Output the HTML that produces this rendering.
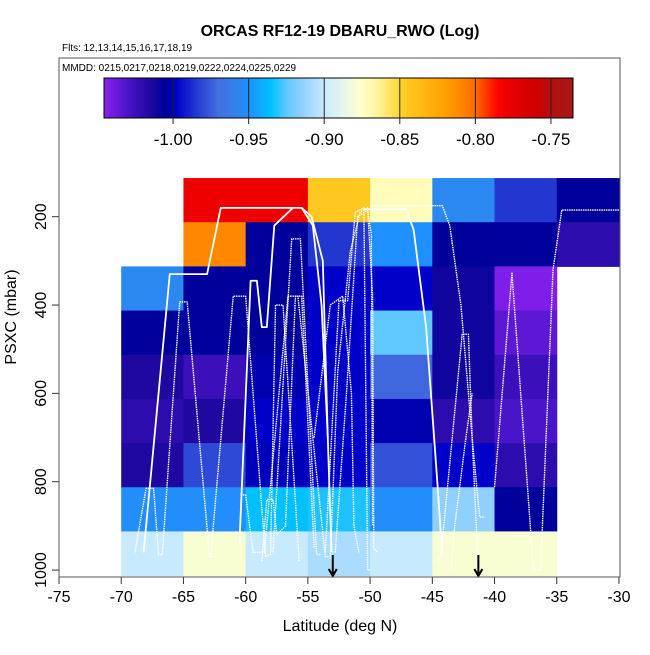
<!DOCTYPE html>
<html><head><meta charset="utf-8"><style>
body{margin:0;background:#fff;}
svg text{font-family:"Liberation Sans",sans-serif;}
</style></head><body>
<svg id="chart" width="650" height="650" xmlns="http://www.w3.org/2000/svg">
<rect width="650" height="650" fill="#fff"/>
<text x="340" y="36" text-anchor="middle" font-size="16" font-weight="bold">ORCAS RF12-19 DBARU_RWO (Log)</text>
<text x="62" y="51" font-size="10">Flts: 12,13,14,15,16,17,18,19</text>
<g id="cells"></g>
<g id="tracks"></g>
<g id="cbar"></g>
<g id="axes"></g>
<rect x="59" y="58" width="561" height="519" fill="none" stroke="#555" stroke-width="1"/>
<text x="62" y="71" font-size="10">MMDD: 0215,0217,0218,0219,0222,0224,0225,0229</text>
<text x="340" y="631" text-anchor="middle" font-size="16">Latitude (deg N)</text>
<text transform="translate(16,317) rotate(-90)" text-anchor="middle" font-size="16">PSXC (mbar)</text>
</svg>
<script>
const NS="http://www.w3.org/2000/svg";
const colEdges=[-70,-65,-60,-55,-50,-45,-40,-35,-30];
const rowEdges=[112.5,212.5,312.5,412.5,512.5,612.5,712.5,812.5,912.5,1012.5];
const cellValues=[
[null,-0.78,-0.78,-0.845,-0.872,-0.955,-0.985,-1.005],
[null,-0.81,-1.005,-0.985,-0.95,-1.005,-1.005,-1.02],
[-0.955,-1.005,-1.005,-0.998,-0.998,-1.01,-1.043,null],
[-1.005,-1.005,-1.005,-0.998,-0.925,-1.01,-1.035,null],
[-1.015,-1.025,-1.002,-0.998,-0.972,-1.01,-1.025,null],
[-1.02,-1.015,-0.998,-0.998,-1.002,-1.02,-1.03,null],
[-1.015,-0.98,-1.0,-0.998,-0.978,-0.998,-1.02,null],
[-0.952,-0.952,-0.935,-0.932,-0.952,-0.915,-1.005,null],
[-0.9,-0.878,-0.9,-0.908,-0.9,-0.878,-0.878,null]];
const xTicks=[-75,-70,-65,-60,-55,-50,-45,-40,-35,-30];
const yTicks=[200,400,600,800,1000];
const cbTicks=[-1.00,-0.95,-0.90,-0.85,-0.80,-0.75];
const cbTickLabels=["-1.00","-0.95","-0.90","-0.85","-0.80","-0.75"];
const arrowLats=[-53,-41.3];
const tracks=[
{d:0,pts:[[-68.2,960],[-66.1,330],[-63.1,330],[-62,180],[-55.5,180],[-54.6,220],[-53.9,400],[-53.4,700],[-53.1,960]]},
{d:1,pts:[[-68.9,960],[-68,815],[-67.4,815],[-67,965],[-66.7,965],[-65.3,393],[-64.7,393],[-62.9,970],[-62.6,970]]},
{d:1,pts:[[-62.8,965],[-61,380],[-60,380],[-58.4,970],[-58,965],[-57.6,400],[-57,400],[-55.7,980]]},
{d:0,pts:[[-60.5,940],[-59.6,345],[-59.1,345],[-58.7,450],[-58.3,450],[-57.7,220],[-56.2,180]]},
{d:1,pts:[[-57.8,960],[-56.3,250],[-55.6,250],[-54.3,965],[-54,965]]},
{d:1,pts:[[-60.4,830],[-60,830],[-59.4,960],[-58.5,960],[-56.6,380],[-55.8,380],[-53.6,970],[-53.3,970]]},
{d:1,pts:[[-58.7,980],[-58.3,840],[-57.8,840],[-57.5,920],[-56.8,900],[-56,380],[-55.5,380],[-54.5,950]]},
{d:1,pts:[[-53.2,975],[-52.6,550],[-51.6,280],[-50.8,190],[-50.2,180],[-49.8,380],[-49.7,950],[-49.4,960]]},
{d:1,pts:[[-53.6,960],[-52.5,390],[-51.8,390],[-51.2,190],[-50.5,180],[-50.2,1000],[-49.9,1000]]},
{d:1,pts:[[-52.8,960],[-51.9,600],[-51,200],[-50.2,185],[-49.9,240],[-49.8,900]]},
{d:1,pts:[[-54.5,700],[-53.2,400],[-52.2,380],[-51.5,600],[-51.3,900],[-50.9,960]]},
{d:0,pts:[[-55.5,180],[-54.7,200],[-53.8,300],[-53.4,700]]},
{d:0,pts:[[-50.5,183],[-47.1,183],[-46.5,230],[-45.5,450],[-44.6,800],[-44.2,965]]},
{d:1,pts:[[-50,175],[-44.2,175],[-43.6,220],[-42.7,400],[-41.8,700],[-41.3,1000]]},
{d:1,pts:[[-44.6,980],[-44.3,965],[-42.6,466],[-42.1,466],[-41.8,700],[-41.2,880],[-40.8,880]]},
{d:1,pts:[[-43.5,1000],[-43.2,900],[-42.3,700],[-41.8,600]]},
{d:1,pts:[[-40,812],[-38.6,328],[-37.1,910],[-36.9,1000],[-36.3,1000],[-35.3,320],[-34.6,185],[-30,185]]}
];
const X0=59,PX=12.444;
function xs(lat){return X0+(lat+75)*PX;}
function ys(p){return 216.7+(p-200)*0.4417;}
const stops=[[-1.046,"#8a20f0"],[-1.03,"#4a14c8"],[-1.015,"#1e08a0"],[-1.005,"#00009a"],[-0.998,"#0000c8"],[-0.985,"#2236d0"],[-0.97,"#4470e0"],[-0.955,"#2a88f0"],[-0.95,"#1e90ff"],[-0.935,"#00c0ff"],[-0.925,"#60c8ff"],[-0.915,"#90d0ff"],[-0.9,"#c8eaff"],[-0.885,"#ecf8e8"],[-0.875,"#ffffc8"],[-0.865,"#fff4a0"],[-0.85,"#ffd830"],[-0.845,"#ffc820"],[-0.82,"#ffa000"],[-0.81,"#ff8800"],[-0.8,"#ff6a00"],[-0.785,"#ff0000"],[-0.78,"#ee0000"],[-0.76,"#d00000"],[-0.75,"#b41010"],[-0.735,"#a81818"]];
function hx(c){return [1,3,5].map(i=>parseInt(c.substr(i,2),16));}
function cmap(v){
  if(v<=stops[0][0])return stops[0][1];
  for(let i=1;i<stops.length;i++){if(v<=stops[i][0]){const a=stops[i-1],b=stops[i];const t=(v-a[0])/(b[0]-a[0]);const ca=hx(a[1]),cb=hx(b[1]);return "rgb("+ca.map((x,k)=>Math.round(x+(cb[k]-x)*t)).join(",")+")";}}
  return stops[stops.length-1][1];
}
function mk(tag,attrs,parent){const e=document.createElementNS(NS,tag);for(const k in attrs)e.setAttribute(k,attrs[k]);parent.appendChild(e);return e;}
const gc=document.getElementById('cells');
cellValues.forEach((row,r)=>row.forEach((v,c)=>{
  if(v===null)return;
  const x1=xs(colEdges[c]),x2=xs(colEdges[c+1]),y1=ys(rowEdges[r]),y2=ys(rowEdges[r+1]);
  const e=mk('rect',{x:x1,y:y1,width:x2-x1+0.5,height:y2-y1+0.5,fill:cmap(v)},gc);
  
  
}));
const gt=document.getElementById('tracks');
tracks.forEach(t=>{
  const e=mk('polyline',{points:t.pts.map(p=>xs(p[0])+","+ys(p[1])).join(" "),fill:"none",stroke:"#fff","stroke-width":t.d?1.4:1.8,"stroke-dasharray":t.d?"1.5,0.8":"none","stroke-linejoin":"round"},gt);
  
  
});
arrowLats.forEach(a=>{
  const x=xs(a);
  const e=mk('path',{d:`M${x},555 L${x},576 M${x-4},569 L${x},576 L${x+4},569`,stroke:"#000","stroke-width":2,fill:"none"},gt);
  
  
});
// colorbar
const gb=document.getElementById('cbar');
const CB0=104,CB1=573,VB0=-1.0457,VB1=-0.7354;
function cx(v){return CB0+(v-VB0)/(VB1-VB0)*(CB1-CB0);}
const defs=mk('defs',{},gb);
const lg=mk('linearGradient',{id:'cg',x1:0,x2:1,y1:0,y2:0},defs);
stops.forEach(s=>{const o=Math.min(1,Math.max(0,(s[0]-VB0)/(VB1-VB0)));mk('stop',{offset:o,'stop-color':s[1]},lg);});
const bar=mk('rect',{x:CB0,y:78,width:CB1-CB0,height:40,fill:"url(#cg)",stroke:"#000","stroke-width":1},gb);


cbTicks.forEach((v,i)=>{
  const x=cx(v);
  mk('line',{x1:x,x2:x,y1:78,y2:124,stroke:"#222","stroke-width":1},gb);
  const t=mk('text',{x:x,y:145,'text-anchor':'middle','font-size':17},gb);
  t.textContent=cbTickLabels[i];
  
  
});
// axes
const ga=document.getElementById('axes');
xTicks.forEach(v=>{
  const x=xs(v);
  mk('line',{x1:x,x2:x,y1:577,y2:584,stroke:"#333"},ga);
  const t=mk('text',{x:x,y:602,'text-anchor':'middle','font-size':16},ga);
  t.textContent=v;
  
  
});
yTicks.forEach(v=>{
  const y=ys(v);
  mk('line',{x1:59,x2:52,y1:y,y2:y,stroke:"#333"},ga);
  const t=mk('text',{transform:`translate(46,${y}) rotate(-90)`,'text-anchor':'middle','font-size':16},ga);
  t.textContent=v;
  
  
});
</script>
</body></html>
